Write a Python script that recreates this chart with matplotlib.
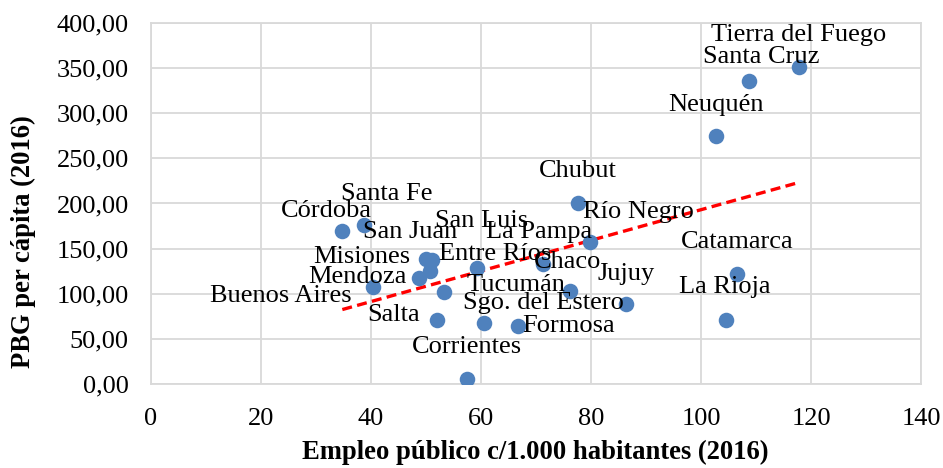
import numpy as np
import matplotlib
matplotlib.use('Agg')
import matplotlib.pyplot as plt
from matplotlib.ticker import FuncFormatter

# Provincias - empleo publico c/1000 hab vs PBG per capita (2016)
provincias = ['Tierra del Fuego', 'Santa Cruz', 'Neuquén', 'Chubut', 'Río Negro',
              'La Pampa', 'Chaco', 'Jujuy', 'Catamarca', 'La Rioja', 'Córdoba',
              'Santa Fe', 'San Juan', 'Misiones', 'San Luis', 'Entre Ríos',
              'Mendoza', 'Buenos Aires', 'Tucumán', 'Sgo. del Estero', 'Salta',
              'Formosa', 'Corrientes']
empleo = [117.8, 108.8, 102.7, 77.6, 79.8,
          71.2, 76.2, 86.4, 106.6, 104.5, 34.8,
          38.7, 51.1, 50.0, 50.7, 59.3,
          48.7, 40.4, 53.3, 60.5, 52.1,
          66.8, 57.5]
pbg = [351.5, 335.3, 275.0, 200.5, 157.0,
       133.0, 103.3, 88.9, 121.9, 70.4, 169.2,
       175.9, 137.8, 138.6, 124.8, 128.1,
       117.4, 107.0, 101.5, 67.4, 71.1,
       64.8, 5.6]

# where each label sits relative to its point (pixels, y up)
label_offsets = {
    'Tierra del Fuego': (0, 32), 'Santa Cruz': (12, 24), 'Neuquén': (0, 31),
    'Chubut': (0, 32), 'Río Negro': (49, 30), 'La Pampa': (-3, 32),
    'Chaco': (-2, 29), 'Jujuy': (0, 30), 'Catamarca': (0, 32),
    'La Rioja': (-1, 33), 'Córdoba': (-16, 20), 'Santa Fe': (23, 31),
    'San Juan': (-22, 28), 'Misiones': (-64, 2), 'San Luis': (52, 50),
    'Entre Ríos': (18, 14), 'Mendoza': (-61, 1), 'Buenos Aires': (-92, -9),
    'Tucumán': (72, 7), 'Sgo. del Estero': (60, 20), 'Salta': (-44, 5),
    'Formosa': (50, 0), 'Corrientes': (0, 32),
}

plt.rcParams['font.family'] = ['Liberation Serif', 'DejaVu Serif']

fig = plt.figure(figsize=(9.43, 4.68), dpi=100)
ax = fig.add_axes([0.160, 0.1795, 0.8167, 0.7714])

grid_col = '#d9d9d9'
ax.set_xlim(0, 140)
ax.set_ylim(0, 400)
ax.set_xticks(np.arange(0, 141, 20))
ax.set_yticks(np.arange(0, 401, 50))
ax.grid(True, color=grid_col, linewidth=1.3, zorder=0)
for s in ax.spines.values():
    s.set_color(grid_col)
    s.set_linewidth(1.3)
ax.tick_params(length=0, labelsize=19)
ax.tick_params(axis='y', pad=16)
ax.tick_params(axis='x', pad=17)
ax.yaxis.set_major_formatter(FuncFormatter(lambda v, p: f'{v:.2f}'.replace('.', ',')))

ax.scatter(empleo, pbg, s=125, color='#4f81bd', zorder=3, linewidths=0)

# linear trend line
x = np.array(empleo)
m, b = np.polyfit(x, np.array(pbg), 1)
xs = np.array([x.min(), x.max()])
ax.plot(xs, m * xs + b, color='#ff0000', linestyle=(0, (3, 1.6)), linewidth=2.4, zorder=2)

for name, xv, yv in zip(provincias, empleo, pbg):
    dx, dy = label_offsets[name]
    ax.annotate(name, (xv, yv), xytext=(dx, dy), textcoords='offset pixels',
                ha='center', va='center', fontsize=19, zorder=4)

fig.text(0.568, 0.034, 'Empleo público c/1.000 habitantes (2016)', ha='center', va='center',
         fontsize=19.2, fontweight='bold')
fig.text(0.025, 1 - 242 / 468, 'PBG per cápita (2016)', ha='center', va='center',
         rotation=90, fontsize=19.2, fontweight='bold')

fig.savefig('out.png', dpi=100)
